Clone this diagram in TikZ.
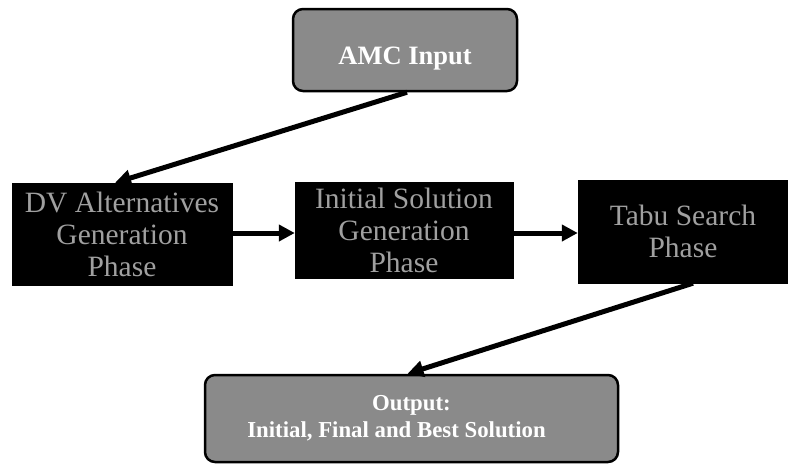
\documentclass[tikz,border=0pt]{standalone}
\usepackage{fontspec}
\setmainfont{Liberation Serif}
\usetikzlibrary{arrows.meta}
\definecolor{boxgray}{HTML}{8A8A8A}
\definecolor{txtgray}{HTML}{A0A0A0}
\begin{document}
\begin{tikzpicture}[x=1pt,y=-1pt,
  graybox/.style={draw=black,line width=2.5pt,fill=boxgray,rounded corners=10pt,
    text=white,align=center,inner sep=0pt},
  blackbox/.style={draw=black,fill=black,text=txtgray,align=center,inner sep=0pt,
    font=\fontsize{29.5}{32}\selectfont},
  conn/.style={line width=5pt,-{Triangle[length=16pt,width=16pt]}}]
\useasboundingbox (0,0) rectangle (788,464);
\node[graybox,minimum width=224pt,minimum height=82pt,font=\bfseries\fontsize{26.5}{30}\selectfont]
  (amc) at (405,50) {\raisebox{-14pt}[0pt][0pt]{AMC Input}};
\node[blackbox,minimum width=220pt,minimum height=102pt] (b1) at (122,234)
  {DV Alternatives\\Generation\\Phase};
\node[blackbox,minimum width=218pt,minimum height=96pt] (b2) at (404,230)
  {Initial Solution\\Generation\\Phase};
\node[blackbox,minimum width=210pt,minimum height=103pt] (b3) at (683,231.5)
  {Tabu Search\\Phase};
\node[graybox,minimum width=413pt,minimum height=87pt,font=\bfseries\fontsize{22.8}{27}\selectfont]
  (out) at (411.5,418.5) {Output:\\Initial, Final and Best Solution\hspace*{30pt}};
\draw[conn] ([xshift=2pt]amc.south) -- ([xshift=-7pt]b1.north);
\draw[conn] (b1.east |- 0,233) -- (b2.west |- 0,233);
\draw[conn] (b2.east |- 0,233) -- (b3.west |- 0,233);
\draw[conn] ([xshift=10pt]b3.south) -- ([xshift=-4pt]out.north);
\end{tikzpicture}
\end{document}
